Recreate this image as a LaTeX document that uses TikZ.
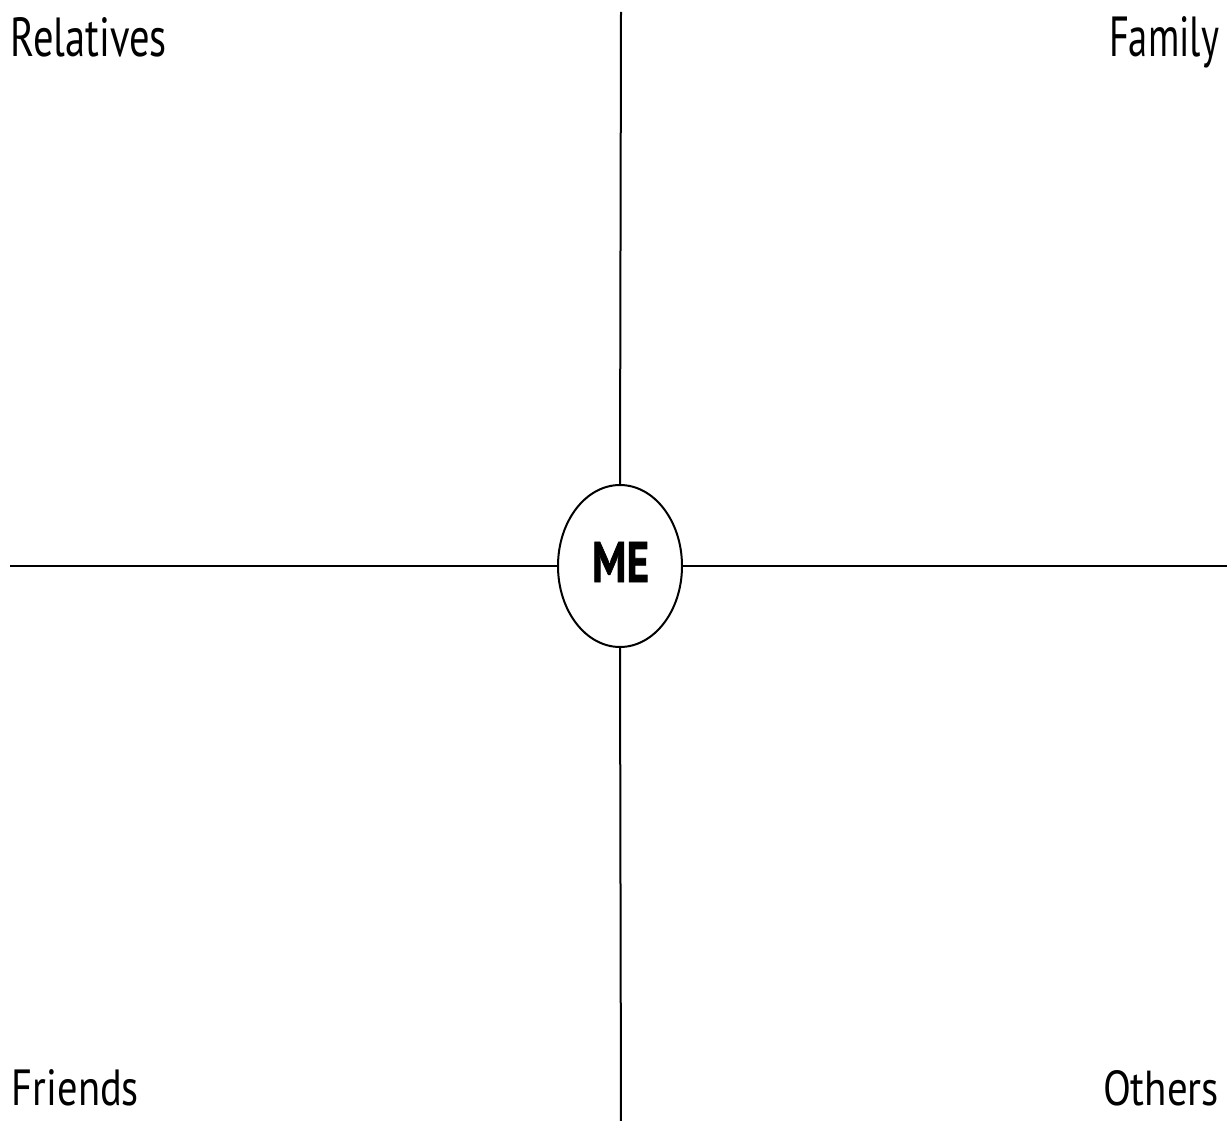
\documentclass[tikz,border=0pt]{standalone}
\usepackage{fontspec}
\setmainfont{PT Sans}
\newfontfamily\heavyfont[FakeBold=1.5]{PT Sans Bold}
\usetikzlibrary{shapes.geometric}
\tikzset{
  axis/.style={line width=2pt, black},
  lbl/.style={inner sep=0pt, outer sep=0pt, anchor=base west, font=\fontsize{40}{40}\selectfont},
  meshape/.style={ellipse, draw, line width=2pt, minimum width=124pt, minimum height=162pt, inner sep=0pt}
}
\begin{document}
\begin{tikzpicture}[x=1pt,y=-1pt]
\useasboundingbox (0,0) rectangle (1227,1121);
\fill[white] (0,0) rectangle (1227,1121);
% axis ends
\coordinate (top) at (621,12);
\coordinate (bot) at (621,1125);
\coordinate (lft) at (10,566);
\coordinate (rgt) at (1230,566);
% centre
\node[meshape] (me) at (620,566) {};
\node[inner sep=0pt, anchor=base] (metext) at (620.5,582) {\resizebox{57pt}{40pt}{\heavyfont ME}};
% axes
\draw[axis] (top) -- (me.north);
\draw[axis] (me.south) -- (bot);
\draw[axis] (lft) -- (me.west);
\draw[axis] (me.east) -- (rgt);
% labels
\node[lbl] (rel) at (11,57) {\resizebox{156pt}{39pt}{Relatives}};
\node[lbl] (fam) at (1109,57) {\resizebox{110pt}{40pt}{Family}};
\node[lbl] (fri) at (12,1105) {\resizebox{127pt}{36pt}{Friends}};
\node[lbl] (oth) at (1103,1105) {\resizebox{116pt}{35pt}{Others}};
\end{tikzpicture}
\end{document}
